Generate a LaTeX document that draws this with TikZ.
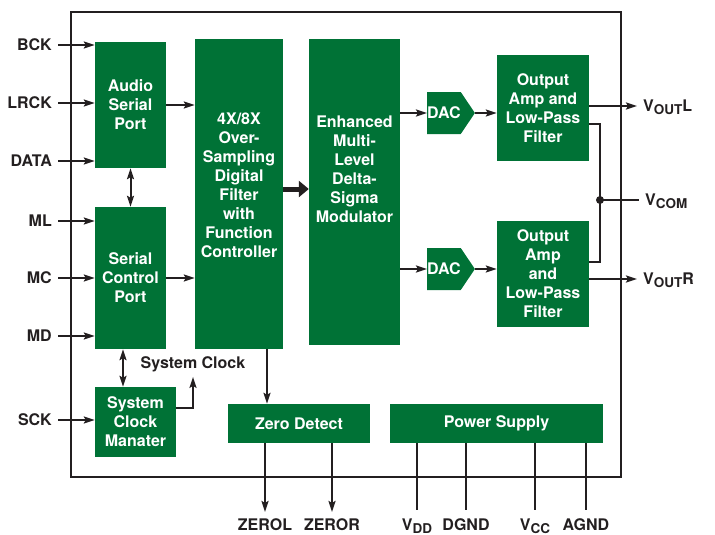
\documentclass[tikz,border=0pt]{standalone}
\usepackage{fontspec}
\setsansfont{TeX Gyre Heros}
\usepackage{tikz}
\usetikzlibrary{arrows.meta,shapes.symbols}
\definecolor{adgreen}{RGB}{0,114,54}
\definecolor{ink}{RGB}{35,31,32}
\newcommand{\blkfont}{\fontsize{16}{19}\selectfont\sffamily\bfseries}
\newcommand{\vsub}[1]{\raisebox{-3pt}{\fontsize{13.5}{13.5}\selectfont #1}}

\begin{document}
\begin{tikzpicture}[
  x=1pt, y=-1pt,
  every node/.style={font=\blkfont},
  block/.style={fill=adgreen,text=white,align=center,inner sep=0pt},
  dac/.style={block,signal,signal to=east,signal pointer angle=112,minimum width=45pt,minimum height=42pt,anchor=west},
  sig/.style={text=ink,inner xsep=6pt,inner ysep=2pt},
  wire/.style={draw=ink,line width=2pt},
  arr/.style={wire,-{Stealth[length=11pt,width=7pt,inset=2pt]}},
  darr/.style={wire,{Stealth[length=11pt,width=7pt,inset=2pt]}-{Stealth[length=11pt,width=7pt,inset=2pt]}},
]
  \useasboundingbox (0,0) rectangle (715,535);

  % Chip outline
  \draw[ink,line width=2.5pt] (71,12) rectangle (621,477);

  % Blocks
  \node[block,minimum width=71pt,minimum height=126pt] (asp) at (130.5,105) {Audio\\Serial\\Port};
  \node[block,minimum width=71pt,minimum height=142pt] (scp) at (130.5,278) {Serial\\Control\\Port};
  \node[block,minimum width=81pt,minimum height=70pt] (scm) at (135.5,422) {System\\Clock\\Manater};

  \node[block,minimum width=88pt,minimum height=310pt] (dsf) at (239,194) {};
  \node[text=white,align=center] (dsftext) at (239,185)
    {4X/8X\\Over-\\Sampling\\Digital\\Filter\\with\\Function\\Controller};

  \node[block,minimum width=91pt,minimum height=306pt] (mod) at (354.5,192) {};
  \node[text=white,align=center] (modtext) at (354.5,169)
    {Enhanced\\Multi-\\Level\\Delta-\\Sigma\\Modulator};

  \node[dac] (daca) at (427,113) {DAC};
  \node[dac] (dacb) at (427,269) {DAC};

  \node[block,minimum width=92pt,minimum height=106pt] (oaa) at (543,108) {Output\\Amp and\\Low-Pass\\Filter};
  \node[block,minimum width=92pt,minimum height=106pt] (oab) at (543,274) {Output\\Amp\\and\\Low-Pass\\Filter};

  \node[block,minimum width=142pt,minimum height=39pt] (zd) at (299,423.5) {Zero Detect};
  \node[block,minimum width=213pt,minimum height=39pt] (ps) at (496.5,423.5) {Power Supply};

  % Inputs
  \node[sig,anchor=east] (bck) at (58,45) {BCK};
  \node[sig,anchor=east] (lrck) at (58,103) {LRCK};
  \node[sig,anchor=east] (data) at (58,161) {DATA};
  \node[sig,anchor=east] (ml) at (58,221) {ML};
  \node[sig,anchor=east] (mc) at (58,278) {MC};
  \node[sig,anchor=east] (md) at (58,336) {MD};
  \node[sig,anchor=east] (sck) at (58,420) {SCK};

  \draw[arr] (bck) -- (bck -| asp.west);
  \draw[arr] (lrck) -- (lrck -| asp.west);
  \draw[arr] (data) -- (data -| asp.west);
  \draw[arr] (ml) -- (ml -| scp.west);
  \draw[arr] (mc) -- (mc -| scp.west);
  \draw[arr] (md) -- (md -| scp.west);
  \draw[arr] (sck) -- (sck -| scm.west);

  % Internal paths
  \draw[arr] (asp) -- (asp -| dsf.west);
  \draw[arr] (scp) -- (scp -| dsf.west);
  \draw[darr] (asp) -- (scp);
  \draw[darr] ([xshift=-7.5pt]scp.south) -- ([xshift=-7.5pt]scp.south |- scm.north);

  \node[sig] (sysclk) at (193,364) {System Clock};
  \draw[arr,shorten >=3pt] ([yshift=14pt]scm.east) -| (sysclk.south);

  \draw[arr] ([xshift=28pt]dsf.south) -- ([xshift=28pt]dsf.south |- zd.north);
  \draw[ink,line width=5pt,-{Triangle[length=10pt,width=16pt]}]
    ([yshift=5pt]dsf.east) -- ([yshift=5pt]dsf.east -| mod.west);

  \draw[arr] (mod.east |- daca.west) -- (daca.west);
  \draw[arr] (daca.east) -- (daca.east -| oaa.west);
  \draw[arr] (mod.east |- dacb.west) -- (dacb.west);
  \draw[arr] (dacb.east) -- (dacb.east -| oab.west);

  % Outputs
  \node[sig,anchor=base west] (voutl) at (637,111.5) {V\vsub{OUT}L};
  \draw[arr] ([yshift=2pt]oaa.east) -- ([yshift=2pt]oaa.east -| voutl.west);

  \coordinate (vcomdot) at (600,200);
  \draw[wire] ([yshift=-16pt]oaa.east) -| (vcomdot) |- ([yshift=12pt]oab.east);
  \fill[ink] (vcomdot) circle[radius=4pt];
  \node[sig,anchor=base west] (vcom) at (639,205.5) {V\vsub{COM}};
  \draw[wire] (vcomdot) -- (vcomdot -| vcom.west);

  \node[sig,anchor=base west] (voutr) at (637,284.5) {V\vsub{OUT}R};
  \draw[arr] ([yshift=-5pt]oab.east) -- ([yshift=-5pt]oab.east -| voutr.west);

  % Bottom pins
  \node[sig,anchor=base] (zerol) at (265,530) {ZEROL};
  \node[sig,anchor=base] (zeror) at (332,530) {ZEROR};
  \draw[arr,shorten >=4pt] (zerol.north |- zd.south) -- (zerol.north);
  \draw[arr,shorten >=4pt] (zeror.north |- zd.south) -- (zeror.north);

  \node[sig,anchor=base] (vdd) at (417,530) {V\vsub{DD}};
  \node[sig,anchor=base] (dgnd) at (466,530) {DGND};
  \node[sig,anchor=base] (vcc) at (535,530) {V\vsub{CC}};
  \node[sig,anchor=base] (agnd) at (586,530) {AGND};
  \draw[wire,shorten >=6pt] (vdd.north |- ps.south) -- (vdd.north);
  \draw[wire,shorten >=6pt] (dgnd.north |- ps.south) -- (dgnd.north);
  \draw[wire,shorten >=6pt] (vcc.north |- ps.south) -- (vcc.north);
  \draw[wire,shorten >=6pt] (agnd.north |- ps.south) -- (agnd.north);
\end{tikzpicture}
\end{document}
